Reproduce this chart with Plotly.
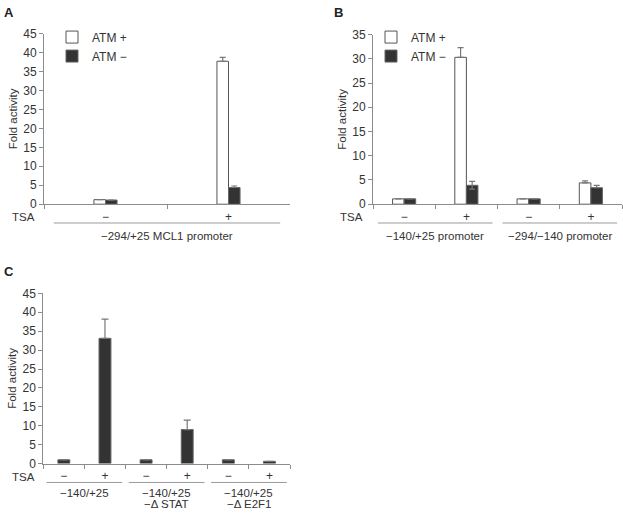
import plotly.graph_objects as go

# ---------------- data ----------------
a_cats = ["TSA−", "TSA+"]
a_tick = ["−", "+"]
a_atm_pos = [1.2, 37.7]
a_atm_pos_err = [0, 1.0]
a_atm_neg = [1.1, 4.4]
a_atm_neg_err = [0, 0.4]
a_group = ["−294/+25 MCL1 promoter"]

b_cats = ["−140/+25 TSA−", "−140/+25 TSA+", "−294/−140 TSA−", "−294/−140 TSA+"]
b_tick = ["−", "+", "−", "+"]
b_atm_pos = [1.1, 30.3, 1.1, 4.4]
b_atm_pos_err = [0, 2.0, 0, 0.4]
b_atm_neg = [1.1, 3.9, 1.1, 3.4]
b_atm_neg_err = [0, 0.8, 0, 0.5]
b_atm_neg_errminus = [0, 0.8, 0, 0]
b_groups = ["−140/+25 promoter", "−294/−140 promoter"]

c_cats = ["wt TSA−", "wt TSA+", "dSTAT TSA−", "dSTAT TSA+", "dE2F1 TSA−", "dE2F1 TSA+"]
c_tick = ["−", "+", "−", "+", "−", "+"]
c_vals = [1.0, 33.1, 1.0, 9.0, 1.0, 0.6]
c_err = [0, 5.1, 0, 2.5, 0, 0]
c_groups_l1 = ["−140/+25", "−140/+25", "−140/+25"]
c_groups_l2 = ["", "−Δ STAT", "−Δ E2F1"]

W, H = 623, 517
FONT = "Liberation Sans, Arial, sans-serif"
TXT = "#333333"
AX = "#8c8c8c"
DARK = "#333333"

def px(x):
    return x / W

def py(y):
    return 1 - y / H

fig = go.Figure()

# Panel A
fig.add_trace(go.Bar(x=a_cats, y=a_atm_pos, name="ATM +", xaxis="x", yaxis="y",
                     width=0.094, offset=-0.094,
                     marker=dict(color="white", line=dict(color="#555555", width=1)),
                     error_y=dict(type="data", array=a_atm_pos_err, arrayminus=[0, 0],
                                  color="#777777", thickness=1.2, width=3),
                     legend="legend"))
fig.add_trace(go.Bar(x=a_cats, y=a_atm_neg, name="ATM −", xaxis="x", yaxis="y",
                     width=0.094, offset=0,
                     marker=dict(color=DARK, line=dict(color="#666666", width=1)),
                     error_y=dict(type="data", array=a_atm_neg_err, arrayminus=[0, 0],
                                  color="#777777", thickness=1.2, width=3),
                     legend="legend"))

# Panel B
fig.add_trace(go.Bar(x=b_cats, y=b_atm_pos, name="ATM +", xaxis="x2", yaxis="y2",
                     width=0.186, offset=-0.186,
                     marker=dict(color="white", line=dict(color="#555555", width=1)),
                     error_y=dict(type="data", array=b_atm_pos_err, arrayminus=[0, 0, 0, 0],
                                  color="#777777", thickness=1.2, width=3),
                     legend="legend2"))
fig.add_trace(go.Bar(x=b_cats, y=b_atm_neg, name="ATM −", xaxis="x2", yaxis="y2",
                     width=0.186, offset=0,
                     marker=dict(color=DARK, line=dict(color="#666666", width=1)),
                     error_y=dict(type="data", array=b_atm_neg_err, arrayminus=b_atm_neg_errminus,
                                  color="#777777", thickness=1.2, width=3),
                     legend="legend2"))

# Panel C
fig.add_trace(go.Bar(x=c_cats, y=c_vals, name="C", xaxis="x3", yaxis="y3",
                     width=0.29, offset=-0.145, showlegend=False,
                     marker=dict(color=DARK, line=dict(color="#666666", width=1)),
                     error_y=dict(type="data", array=c_err, arrayminus=[0] * 6,
                                  color="#777777", thickness=1.2, width=3.5)))

def xaxis(domain, anchor, cats, ticks):
    return dict(domain=domain, anchor=anchor, type="category",
                categoryorder="array", categoryarray=cats,
                tickvals=cats, ticktext=ticks, tickson="boundaries",
                ticks="outside", ticklen=4, tickcolor=AX, showline=True,
                linecolor=AX, linewidth=1, showgrid=False, zeroline=False,
                ticklabelstandoff=1,
                tickfont=dict(size=12, color=TXT, family=FONT), fixedrange=True)

def yaxis(domain, anchor, top):
    return dict(domain=domain, anchor=anchor, range=[0, top], dtick=5,
                ticks="outside", ticklen=4, tickcolor=AX, showline=True,
                linecolor=AX, linewidth=1, showgrid=False, zeroline=False,
                tickfont=dict(size=12, color=TXT, family=FONT),
                title=dict(text="Fold activity", font=dict(size=11.5, color=TXT, family=FONT),
                           standoff=3),
                fixedrange=True)

fig.update_layout(
    width=W, height=H, margin=dict(l=0, r=0, t=0, b=0),
    paper_bgcolor="white", plot_bgcolor="white",
    font=dict(family=FONT, color=TXT, size=12),
    barmode="overlay",
    xaxis=xaxis([px(44), px(290)], "y", a_cats, a_tick),
    yaxis=yaxis([py(202.7), py(27.3)], "x", 45),
    xaxis2=xaxis([px(373), px(622)], "y2", b_cats, b_tick),
    yaxis2=yaxis([py(202.7), py(28.3)], "x2", 35),
    xaxis3=xaxis([px(43.3), px(290)], "y3", c_cats, c_tick),
    yaxis3=yaxis([py(469.3), py(294.3)], "x3", 45),
    legend=dict(x=px(52), y=py(16), xanchor="left", yanchor="top",
                bgcolor="rgba(0,0,0,0)", font=dict(size=12, color=TXT, family=FONT),
                itemwidth=30, tracegroupgap=0),
    legend2=dict(x=px(371), y=py(16), xanchor="left", yanchor="top",
                 bgcolor="rgba(0,0,0,0)", font=dict(size=12, color=TXT, family=FONT),
                 itemwidth=30, tracegroupgap=0),
)

ann = []
# panel letters
for letter, x, y in [("A", 2, 6), ("B", 332, 6), ("C", 2, 272)]:
    ann.append(dict(text=f"<b>{letter}</b>", x=px(x), y=py(y), xref="paper", yref="paper",
                    xanchor="left", yanchor="middle", showarrow=False,
                    font=dict(size=13, color="#222222", family=FONT)))
# TSA labels
for x, y in [(37, 216), (365, 216), (37, 483)]:
    ann.append(dict(text="TSA", x=px(x), y=py(y), xref="paper", yref="paper",
                    xanchor="right", yanchor="middle", showarrow=False,
                    font=dict(size=11.5, color=TXT, family=FONT)))

shapes = []
def group_line(xref, g, ypix):
    shapes.append(dict(type="line", xref=xref, yref="paper", x0=2 * g - 0.42, x1=2 * g + 1.42,
                       y0=py(ypix), y1=py(ypix), line=dict(color="#9a9a9a", width=1)))

for g, label in enumerate(a_group):
    group_line("x", g, 222)
    ann.append(dict(text=label, x=2 * g + 0.5, y=py(235), xref="x", yref="paper",
                    xanchor="center", yanchor="middle", showarrow=False,
                    font=dict(size=11.5, color=TXT, family=FONT)))
for g, label in enumerate(b_groups):
    group_line("x2", g, 222)
    ann.append(dict(text=label, x=2 * g + 0.5, y=py(235), xref="x2", yref="paper",
                    xanchor="center", yanchor="middle", showarrow=False,
                    font=dict(size=11.5, color=TXT, family=FONT)))
for g, (l1, l2) in enumerate(zip(c_groups_l1, c_groups_l2)):
    group_line("x3", g, 488.7)
    ann.append(dict(text=l1, x=2 * g + 0.5, y=py(500), xref="x3", yref="paper",
                    xanchor="center", yanchor="middle", showarrow=False,
                    font=dict(size=11.5, color=TXT, family=FONT)))
    if l2:
        ann.append(dict(text=l2, x=2 * g + 0.5, y=py(511), xref="x3", yref="paper",
                        xanchor="center", yanchor="middle", showarrow=False,
                        font=dict(size=11.5, color=TXT, family=FONT)))

fig.update_layout(annotations=ann, shapes=shapes)
fig.write_html("out.html", config={"displayModeBar": False},
               post_script="document.body.style.margin='0px';document.body.style.overflow='hidden';")
